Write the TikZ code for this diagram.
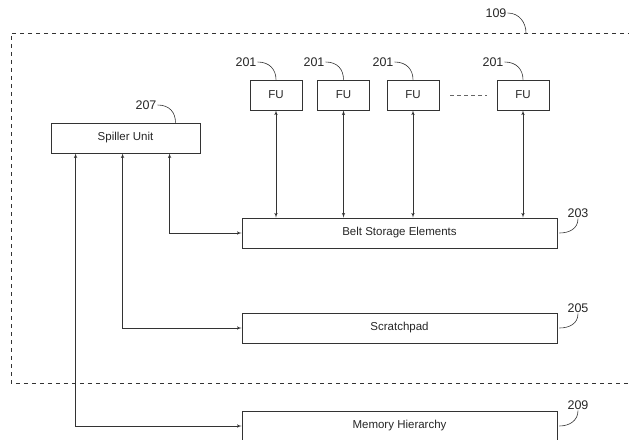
\documentclass[tikz,border=0pt]{standalone}
\usepackage{fontspec}
\setmainfont{Liberation Sans}
\usepackage{tikz}
\usetikzlibrary{arrows,positioning}

\begin{document}
\begin{tikzpicture}[x=1pt, y=-1pt, >=latex',
  block/.style={rectangle, draw=black!80, thick, minimum width=315pt, minimum height=30pt, font=\fontsize{11.5}{13}\selectfont, text=black!85},
  fublock/.style={block, minimum width=52pt},
  refnum/.style={font=\fontsize{12.5}{14}\selectfont, text=black!85, inner sep=1pt},
  leader/.style={draw=black!80, semithick},
  line/.style={draw=black!80, semithick, <->}]

  \useasboundingbox (0,0) rectangle (629,439);

  % Frame
  \draw [black!80, semithick, dash pattern=on 4pt off 4pt] (640,33) -| (11,383) -- (640,383);
  \node [refnum] (l109) at (496,13) {109};
  \draw [leader] (l109.east) .. controls +(12,0) and +(0,-10) .. (526,33);

  % Nodes
  \node [block, minimum width=149pt] (spiller) at (125.5,138) {Spiller Unit};
  \node [fublock] (fu1) at (276,95) {FU};
  \node [fublock] (fu2) at (343.5,95) {FU};
  \node [fublock] (fu3) at (413,95) {FU};
  \node [fublock] (fu4) at (523,95) {FU};
  \node [block] (belt) at (399.5,233) {Belt Storage Elements};
  \node [block] (scratch) at (399.5,328) {Scratchpad};
  \node [block] (memory) at (399.5,426) {Memory Hierarchy};

  % Reference numerals
  \node [refnum] (l207) at (146,105) {207};
  \node [refnum] (l201a) at (246,62) {201};
  \node [refnum] (l201b) at (314,62) {201};
  \node [refnum] (l201c) at (383,62) {201};
  \node [refnum] (l201d) at (493,62) {201};
  \node [refnum] (l203) at (578,213) {203};
  \node [refnum] (l205) at (578,308) {205};
  \node [refnum] (l209) at (578,405) {209};

  \draw [leader] (l207.east) .. controls +(12,0) and +(0,-10) .. ([xshift=50pt]spiller.north);
  \draw [leader] (l201a.east) .. controls +(12,0) and +(0,-10) .. (fu1.north);
  \draw [leader] (l201b.east) .. controls +(12,0) and +(0,-10) .. (fu2.north);
  \draw [leader] (l201c.east) .. controls +(12,0) and +(0,-10) .. (fu3.north);
  \draw [leader] (l201d.east) .. controls +(12,0) and +(0,-10) .. (fu4.north);
  \draw [leader] (l203.south) .. controls +(0,10) and +(10,0) .. ([xshift=2pt]belt.east);
  \draw [leader] (l205.south) .. controls +(0,10) and +(10,0) .. ([xshift=2pt]scratch.east);
  \draw [leader] (l209.south) .. controls +(0,10) and +(10,0) .. ([xshift=2pt]memory.east);

  % Edges
  \draw [black!60, semithick, dash pattern=on 4pt off 3pt, shorten <=11pt, shorten >=10pt] (fu3) -- (fu4);
  \path [line] (fu1.south) -- (fu1.south |- belt.north);
  \path [line] (fu2.south) -- (fu2.south |- belt.north);
  \path [line] (fu3.south) -- (fu3.south |- belt.north);
  \path [line] (fu4.south) -- (fu4.south |- belt.north);

  \path [line] ([xshift=119pt]spiller.south west) |- (belt.west);
  \path [line] ([xshift=72pt]spiller.south west) |- (scratch.west);
  \path [line] ([xshift=25pt]spiller.south west) |- (memory.west);

\end{tikzpicture}
\end{document}
